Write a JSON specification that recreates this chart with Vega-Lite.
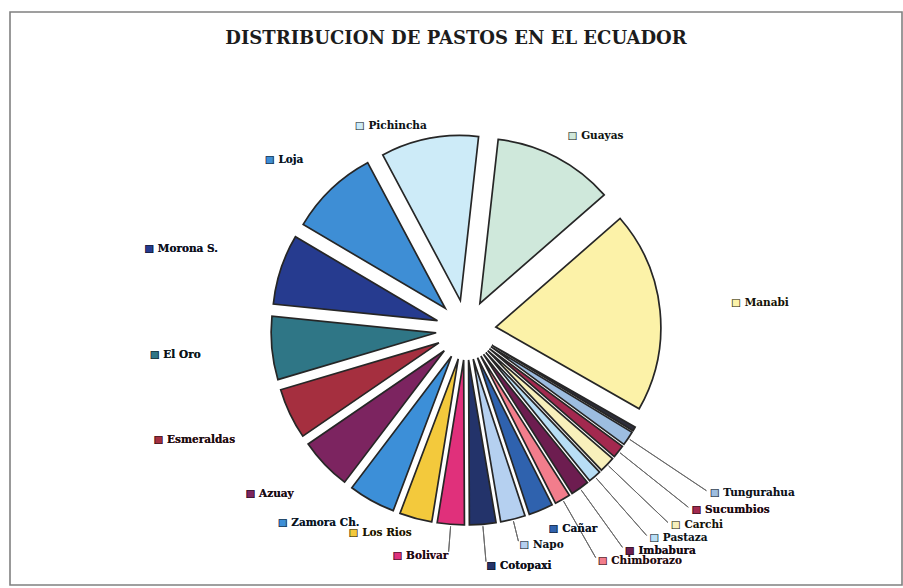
{
  "$schema": "https://vega.github.io/schema/vega-lite/v6.json",
  "width": 903,
  "height": 588,
  "autosize": {"type": "fit", "contains": "padding"},
  "padding": {"left": 9, "top": 11, "right": 0, "bottom": 2},
  "background": "white",
  "config": {"view": {"stroke": null}},
  "title": {
    "text": "DISTRIBUCION DE PASTOS EN EL ECUADOR",
    "font": "DejaVu Serif",
    "fontSize": 18,
    "fontWeight": "bold",
    "color": "#1c1c1c",
    "anchor": "middle",
    "offset": -37
  },
  "layer": [
    {
      "data": {"values": [{"frame": 1}]},
      "mark": {"type": "rect", "filled": false, "stroke": "#808080", "strokeWidth": 1.6},
      "encoding": {
        "x": {"value": 0},
        "x2": {"value": "width"},
        "y": {"value": 0},
        "y2": {"value": "height"}
      }
    },
    {
      "data": {
        "values": [
          {"o": 1, "p": "Guayas", "v": 42},
          {"o": 2, "p": "Manabi", "v": 70},
          {"o": 3, "p": "Galápagos", "v": 1.5},
          {"o": 4, "p": "Tungurahua", "v": 5},
          {"o": 5, "p": "Sucumbios", "v": 4.5},
          {"o": 6, "p": "Carchi", "v": 5.5},
          {"o": 7, "p": "Pastaza", "v": 4.5},
          {"o": 8, "p": "Imbabura", "v": 6.5},
          {"o": 9, "p": "Chimborazo", "v": 5.5},
          {"o": 10, "p": "Cañar", "v": 8.5},
          {"o": 11, "p": "Napo", "v": 8.6},
          {"o": 12, "p": "Cotopaxi", "v": 9.2},
          {"o": 13, "p": "Bolivar", "v": 9.4},
          {"o": 14, "p": "Los Rios", "v": 11.3},
          {"o": 15, "p": "Zamora Ch.", "v": 16.3},
          {"o": 16, "p": "Azuay", "v": 18.2},
          {"o": 17, "p": "Esmeraldas", "v": 17.7},
          {"o": 18, "p": "El Oro", "v": 22},
          {"o": 19, "p": "Morona S.", "v": 24.5},
          {"o": 20, "p": "Loja", "v": 31},
          {"o": 21, "p": "Pichincha", "v": 34}
        ]
      },
      "encoding": {
        "theta": {"field": "v", "type": "quantitative", "stack": true, "scale": {"range": [0.111, 6.394]}},
        "order": {"field": "o", "type": "quantitative"},
        "color": {
          "field": "p",
          "type": "nominal",
          "legend": null,
          "scale": {
            "domain": ["Guayas", "Manabi", "Galápagos", "Tungurahua", "Sucumbios", "Carchi", "Pastaza", "Imbabura", "Chimborazo", "Cañar", "Napo", "Cotopaxi", "Bolivar", "Los Rios", "Zamora Ch.", "Azuay", "Esmeraldas", "El Oro", "Morona S.", "Loja", "Pichincha"],
            "range": ["#cfe8db", "#fcf2a8", "#2d2d3a", "#9dbde0", "#a3294f", "#f8f0bb", "#b8def5", "#6d1d50", "#f27d8c", "#2f62ae", "#b5d0f0", "#23336a", "#e0307b", "#f3c93c", "#3c8fd8", "#7c2460", "#a52f3f", "#2f7686", "#263b8f", "#3e8ed5", "#cdebf8"]
          }
        }
      },
      "layer": [
        {
          "mark": {
            "type": "arc",
            "filled": false,
            "stroke": "#6a6a6a",
            "strokeWidth": 1,
            "padAngle": 2.5,
            "innerRadius": 167,
            "outerRadius": {"expr": "172 + 61*pow(sin(scale('theta', (datum.v_start + datum.v_end)/2)),2) + (indexof(['Tungurahua','Sucumbios','Carchi','Pastaza','Imbabura','Chimborazo'], datum.p) >= 0 ? 45 : datum.p == 'Cotopaxi' ? 30 : datum.p == 'Bolivar' ? 20 : datum.p == 'Napo' ? 12 : 0)"},
            "xOffset": {"expr": "10 + 30*sin(scale('theta', (datum.v_start + datum.v_end)/2))"},
            "yOffset": {"expr": "31.5 - 30*cos(scale('theta', (datum.v_start + datum.v_end)/2))"}
          },
          "encoding": {
            "strokeOpacity": {
              "condition": {"test": "indexof(['Tungurahua','Sucumbios','Carchi','Pastaza','Imbabura','Chimborazo','Cotopaxi','Bolivar','Napo'], datum.p) >= 0", "value": 1},
              "value": 0
            }
          }
        },
        {
          "mark": {
            "type": "arc",
            "outerRadius": 165,
            "stroke": "#262626",
            "strokeWidth": 1.7,
            "xOffset": {"expr": "10 + 30*sin(scale('theta', (datum.v_start + datum.v_end)/2))"},
            "yOffset": {"expr": "31.5 - 30*cos(scale('theta', (datum.v_start + datum.v_end)/2))"}
          }
        },
        {
          "mark": {
            "type": "text",
            "radius": {"expr": "176 + 61*pow(sin(scale('theta', (datum.v_start + datum.v_end)/2)),2) + (indexof(['Tungurahua','Sucumbios','Carchi','Pastaza','Imbabura','Chimborazo'], datum.p) >= 0 ? 45 : datum.p == 'Cotopaxi' ? 30 : datum.p == 'Bolivar' ? 20 : datum.p == 'Napo' ? 12 : 0)"},
            "xOffset": {"expr": "10 + 30*sin(scale('theta', (datum.v_start + datum.v_end)/2))"},
            "yOffset": {"expr": "31.5 - 30*cos(scale('theta', (datum.v_start + datum.v_end)/2))"},
            "font": "DejaVu Serif",
            "fontWeight": "bold",
            "fontSize": 10.5,
            "baseline": "middle",
            "align": {"expr": "scale('theta', (datum.v_start + datum.v_end)/2) > PI ? 'right' : 'left'"},
            "text": {"expr": "datum.p == 'Galápagos' ? '' : '■ ' + datum.p"}
          }
        },
        {
          "mark": {
            "type": "text",
            "radius": {"expr": "176 + 61*pow(sin(scale('theta', (datum.v_start + datum.v_end)/2)),2) + (indexof(['Tungurahua','Sucumbios','Carchi','Pastaza','Imbabura','Chimborazo'], datum.p) >= 0 ? 45 : datum.p == 'Cotopaxi' ? 30 : datum.p == 'Bolivar' ? 20 : datum.p == 'Napo' ? 12 : 0)"},
            "xOffset": {"expr": "10 + 30*sin(scale('theta', (datum.v_start + datum.v_end)/2))"},
            "yOffset": {"expr": "31.5 - 30*cos(scale('theta', (datum.v_start + datum.v_end)/2))"},
            "font": "DejaVu Serif",
            "fontWeight": "bold",
            "fontSize": 10.5,
            "baseline": "middle",
            "align": {"expr": "scale('theta', (datum.v_start + datum.v_end)/2) > PI ? 'right' : 'left'"},
            "text": {"expr": "datum.p == 'Galápagos' ? '' : '□ ' + datum.p"}
          },
          "encoding": {"color": {"value": "#111111"}}
        }
      ]
    }
  ]
}
